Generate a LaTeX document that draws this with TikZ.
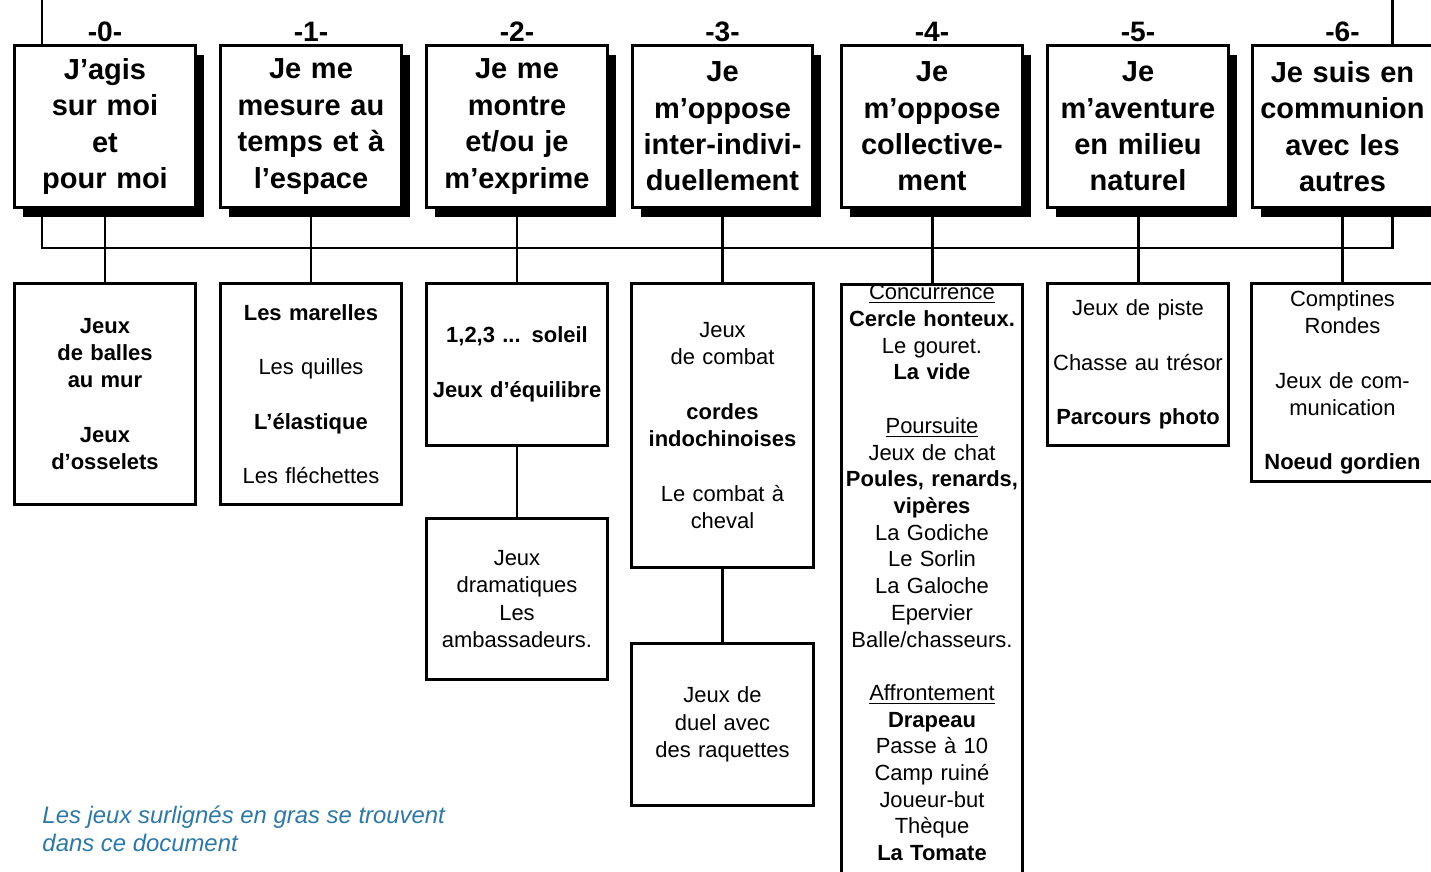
\documentclass[tikz,border=0pt]{standalone}
\usepackage{fontspec}
\setmainfont{Liberation Sans}
\usetikzlibrary{shadows}
\definecolor{notecol}{RGB}{45,120,165}

\begin{document}
\begin{tikzpicture}[
        x=0.02cm, y=-0.02cm,
        line width=1.7pt,
        every node/.style={font=\normalsize},
        domaine/.style={draw, fill=white, minimum width=3.62cm, minimum height=3.26cm,
            text width=3.5cm, align=center, inner sep=0pt,
            font=\fontsize{16.5}{20.7}\selectfont\bfseries,
            drop shadow={opacity=1, fill=black, shadow xshift=0.17cm, shadow yshift=-0.19cm}},
        numero/.style={inner sep=0pt, font=\fontsize{16}{18}\selectfont\bfseries},
        jeux/.style={draw, fill=white, minimum width=3.62cm, text width=3.56cm,
            align=center, inner sep=1pt, font=\fontsize{12.5}{15.5}\selectfont},
        note/.style={inner sep=0pt, align=left, text=notecol,
            font=\fontsize{13.6}{15.9}\selectfont\itshape}
    ]
    \useasboundingbox (0,0) rectangle (1431,872);
    \clip (0,0) rectangle (1431,872);
    \coordinate (busNW) at (42,0);
    \coordinate (busSW) at (42,248);
    \coordinate (busSE) at (1392,248);
    \coordinate (busNE) at (1392,0);
    \draw (busNW) -- (busSW) -- (busSE) -- (busNE);
    \node[domaine] (T0) at (105,126.5) {J'agis\\sur moi\\et\\pour moi};
    \node[domaine] (T1) at (311,126.5) {Je me\\mesure au\\temps et à\\l'espace};
    \node[domaine] (T2) at (517,126.5) {Je me\\montre\\et/ou je\\m'exprime};
    \node[domaine] (T3) at (722.5,126.5) {Je\\m'oppose\\inter-indivi-\\duellement};
    \node[domaine] (T4) at (932,126.5) {Je\\m'oppose\\collective-\\ment};
    \node[domaine] (T5) at (1138,126.5) {Je\\m'aventure\\en milieu\\naturel};
    \node[domaine] (T6) at (1342.5,126.5) {Je suis en\\communion\\avec les\\autres};
    \node[numero] at (105,32) {-0-};
    \node[numero] at (311,32) {-1-};
    \node[numero] at (517,32) {-2-};
    \node[numero] at (722.5,32) {-3-};
    \node[numero] at (932,32) {-4-};
    \node[numero] at (1138,32) {-5-};
    \node[numero] at (1342.5,32) {-6-};
    \node[jeux, minimum height=4.44cm] (J0) at (105,394)
        {\bfseries Jeux\\de balles\\au mur\\[15.5pt]Jeux\\d'osselets};
    \node[jeux, minimum height=4.44cm] (J1) at (311,394)
        {\textbf{Les marelles}\\[15.5pt]Les quilles\\[15.5pt]\textbf{L'élastique}\\[15.5pt]Les fléchettes};
    \node[jeux, minimum height=3.26cm] (J2) at (517,364.5)
        {\textbf{1,2,3 ... soleil}\\[15.5pt]\textbf{Jeux d'équilibre}};
    \node[jeux, minimum height=3.24cm] (J2b) at (517,599)
        {Jeux\\dramatiques\\Les\\ambassadeurs.};
    \node[jeux, minimum height=5.7cm] (J3) at (722.5,425.5)
        {Jeux\\de combat\\[15.5pt]\textbf{cordes}\\\textbf{indochinoises}\\[15.5pt]Le combat à\\cheval};
    \node[jeux, minimum height=3.26cm] (J3b) at (722.5,724.5)
        {Jeux de\\duel avec\\des raquettes};
    \node[jeux, inner ysep=0pt, anchor=north, font=\fontsize{12.5}{15.2}\selectfont] (J4) at (932,283)
        {\underline{Concurrence}\\
        \textbf{Cercle honteux.}\\
        Le gouret.\\
        \textbf{La vide}\\[15.2pt]
        \underline{Poursuite}\\
        Jeux de chat\\
        \textbf{Poules, renards,}\\
        \textbf{vipères}\\
        La Godiche\\
        Le Sorlin\\
        La Galoche\\
        Epervier\\
        Balle/chasseurs.\\[15.2pt]
        \underline{Affrontement}\\
        \textbf{Drapeau}\\
        Passe à 10\\
        Camp ruiné\\
        Joueur-but\\
        Thèque\\
        \textbf{La Tomate}\\[1cm]\mbox{}};
    \node[jeux, minimum height=3.26cm] (J5) at (1138,364.5)
        {Jeux de piste\\[15.5pt]Chasse au trésor\\[15.5pt]\textbf{Parcours photo}};
    \node[jeux, minimum height=3.98cm] (J6) at (1342.5,382.5)
        {Comptines\\Rondes\\[15.5pt]Jeux de com-\\munication\\[15.5pt]\textbf{Noeud gordien}};
    \draw (T0) -- (J0);
    \draw (T1) -- (J1);
    \draw (T2) -- (J2);
    \draw (J2) -- (J2b);
    \draw (T3) -- (J3);
    \draw (J3) -- (J3b);
    \draw (T4) -- (J4);
    \draw (T5) -- (J5);
    \draw (T6) -- (J6);
    \node[note, anchor=north west] (N) at (41,804)
        {Les jeux surlignés en gras se trouvent\\dans ce document};
\end{tikzpicture}
\end{document}
